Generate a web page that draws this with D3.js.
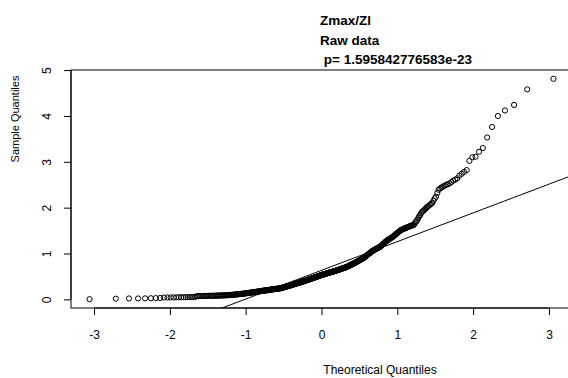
<!DOCTYPE html>
<html>
<head>
<meta charset="utf-8">
<script src="https://cdn.jsdelivr.net/npm/d3@7"></script>
<style>
  html, body { margin: 0; padding: 0; background: #fff; }
  svg { display: block; font-family: "Liberation Sans", Arial, Helvetica, sans-serif; }
</style>
</head>
<body>
<svg id="chart" width="568" height="378"></svg>
<script>
// Normal Q-Q plot of Zmax/Zl (raw data), n = 450, sorted sample values.
const titleLines = ["Zmax/Zl", "Raw data", " p= 1.595842776583e-23"];
const xLabel = "Theoretical Quantiles";
const yLabel = "Sample Quantiles";
const xTicks = [-3, -2, -1, 0, 1, 2, 3];
const yTicks = [0, 1, 2, 3, 4, 5];

const lowerTail = [
  0.004, 0.015, 0.02, 0.02, 0.022, 0.025, 0.028, 0.03,
  0.040, 0.041, 0.042, 0.043, 0.044, 0.045, 0.046, 0.047, 0.048, 0.049, 0.050, 0.051, 0.052, 0.054,
  0.070, 0.071, 0.072, 0.072, 0.073, 0.074, 0.075, 0.075, 0.076, 0.077, 0.078, 0.078, 0.079, 0.080,
  0.081, 0.081, 0.082, 0.083, 0.084, 0.084, 0.085, 0.086, 0.087, 0.088, 0.089, 0.090, 0.091, 0.092, 0.093, 0.095,
  0.097, 0.099, 0.100, 0.102, 0.104, 0.105, 0.107, 0.109, 0.111, 0.112, 0.114, 0.116, 0.118, 0.119, 0.121, 0.123, 0.125, 0.127, 0.130,
  0.132, 0.134, 0.136, 0.138, 0.140, 0.142, 0.144, 0.146, 0.148, 0.150, 0.152, 0.154, 0.156, 0.158, 0.160, 0.162, 0.164, 0.166, 0.168, 0.170, 0.172, 0.174, 0.177, 0.180,
  0.182, 0.184, 0.185, 0.187, 0.188, 0.190, 0.192, 0.193, 0.195, 0.197, 0.198, 0.200, 0.201, 0.203, 0.205, 0.206, 0.208, 0.210
];
const middle = [
  0.214, 0.215, 0.217, 0.218, 0.220, 0.221, 0.223, 0.224, 0.226, 0.227, 0.229, 0.230, 0.232, 0.233, 0.235, 0.236, 0.238, 0.239, 0.241, 0.242,
  0.245, 0.248, 0.251, 0.254, 0.257, 0.260, 0.263, 0.266, 0.269, 0.272, 0.275, 0.278, 0.281, 0.284, 0.287, 0.290, 0.293, 0.296, 0.299, 0.302,
  0.305, 0.308, 0.311, 0.314, 0.317, 0.320, 0.323, 0.326, 0.329, 0.332, 0.335, 0.338, 0.341, 0.344, 0.347, 0.350, 0.353, 0.356, 0.359,
  0.362, 0.365, 0.368, 0.371, 0.374, 0.377, 0.381, 0.384, 0.387, 0.390, 0.393, 0.396, 0.400, 0.403, 0.406, 0.409, 0.412, 0.415, 0.419, 0.422,
  0.425, 0.428, 0.431, 0.434, 0.438, 0.441, 0.444, 0.447, 0.450, 0.453, 0.457, 0.460, 0.463, 0.466, 0.470,
  0.473, 0.476, 0.480, 0.483, 0.486, 0.490, 0.493, 0.496, 0.500, 0.503, 0.506, 0.510, 0.513, 0.516, 0.520, 0.523, 0.526, 0.530,
  0.533, 0.536, 0.538, 0.541, 0.544, 0.547, 0.549, 0.552, 0.555, 0.558, 0.560, 0.563, 0.566, 0.569, 0.571, 0.574, 0.577, 0.580,
  0.582, 0.585, 0.588, 0.591, 0.593, 0.596, 0.599, 0.602, 0.604, 0.607, 0.610, 0.613, 0.615, 0.618, 0.621, 0.624, 0.627, 0.630,
  0.633, 0.637, 0.640, 0.643, 0.647, 0.650, 0.653, 0.657, 0.660, 0.663, 0.667, 0.670, 0.673, 0.677, 0.680, 0.683, 0.687, 0.690, 0.693, 0.697, 0.700, 0.703, 0.707, 0.710,
  0.715, 0.720, 0.725, 0.730, 0.735, 0.740, 0.745, 0.750, 0.755, 0.760, 0.765, 0.770, 0.775, 0.780, 0.785, 0.790, 0.795, 0.800,
  0.806, 0.812, 0.818, 0.824, 0.829, 0.835, 0.841, 0.847, 0.853, 0.859, 0.865, 0.871, 0.876, 0.882, 0.888, 0.894, 0.900,
  0.909, 0.918, 0.926, 0.935, 0.944, 0.953, 0.962, 0.970, 0.979, 0.988, 0.997, 1.006, 1.014, 1.023, 1.032, 1.041, 1.050
];
const upperTail = [
  1.058, 1.064, 1.071, 1.077, 1.084, 1.091, 1.097, 1.104, 1.110, 1.117, 1.124, 1.130, 1.137, 1.143, 1.150,
  1.162, 1.174, 1.186, 1.197, 1.209, 1.221, 1.233, 1.245, 1.256, 1.268, 1.280,
  1.289, 1.298, 1.307, 1.316, 1.325, 1.334, 1.343, 1.352, 1.361, 1.370,
  1.383, 1.396, 1.408, 1.421, 1.434, 1.446, 1.459, 1.472, 1.484, 1.497, 1.510,
  1.517, 1.524, 1.532, 1.539, 1.546, 1.554, 1.561, 1.568, 1.576, 1.583, 1.590, 1.598, 1.605, 1.612, 1.616, 1.620,
  1.65, 1.68, 1.70, 1.73,
  1.77, 1.81, 1.84, 1.88, 1.91,
  1.93, 1.95, 1.97, 2.00, 2.02,
  2.04, 2.06, 2.08, 2.10,
  2.15, 2.20, 2.24,
  2.32, 2.39,
  2.42, 2.44, 2.46,
  2.48, 2.50, 2.51, 2.53,
  2.56, 2.59, 2.61, 2.64,
  2.70, 2.74, 2.78, 2.82, 3.02, 3.10, 3.11, 3.22, 3.30, 3.53, 3.76, 4.00, 4.12, 4.24, 4.58, 4.81
];

const sample = lowerTail.concat(middle, upperTail).sort(d3.ascending);
const n = sample.length;

// Inverse standard normal CDF (Acklam's rational approximation).
function qnorm(p) {
  const a = [-39.69683028665376, 220.9460984245205, -275.9285104469687, 138.3577518672690, -30.66479806614716, 2.506628277459239];
  const b = [-54.47609879822406, 161.5858368580409, -155.6989798598866, 66.80131188771972, -13.28068155288572];
  const c = [-0.007784894002430293, -0.3223964580411365, -2.400758277161838, -2.549732539343734, 4.374664141464968, 2.938163982698783];
  const d = [0.007784695709041462, 0.3224671290700398, 2.445134137142996, 3.754408661907416];
  const pl = 0.02425, ph = 1 - pl;
  let q, r;
  if (p < pl) {
    q = Math.sqrt(-2 * Math.log(p));
    return (((((c[0]*q+c[1])*q+c[2])*q+c[3])*q+c[4])*q+c[5]) / ((((d[0]*q+d[1])*q+d[2])*q+d[3])*q+1);
  }
  if (p <= ph) {
    q = p - 0.5; r = q * q;
    return (((((a[0]*r+a[1])*r+a[2])*r+a[3])*r+a[4])*r+a[5])*q / (((((b[0]*r+b[1])*r+b[2])*r+b[3])*r+b[4])*r+1);
  }
  q = Math.sqrt(-2 * Math.log(1 - p));
  return -(((((c[0]*q+c[1])*q+c[2])*q+c[3])*q+c[4])*q+c[5]) / ((((d[0]*q+d[1])*q+d[2])*q+d[3])*q+1);
}

// Plotting positions (i - 0.5) / n, as in ppoints() for n > 10.
const theo = d3.range(n).map(i => qnorm((i + 0.5) / n));
const points = sample.map((v, i) => ({ x: theo[i], y: v }));

// Reference line through the first and third quartiles.
const q1 = d3.quantile(sample, 0.25), q3 = d3.quantile(sample, 0.75);
const z1 = qnorm(0.25), z3 = qnorm(0.75);
const slope = (q3 - q1) / (z3 - z1);
const intercept = q1 - slope * z1;

// Axis limits padded by 4% of the data range on each side.
function padded(ext) { const s = ext[1] - ext[0]; return [ext[0] - 0.04 * s, ext[1] + 0.04 * s]; }

const plot = { left: 71, right: 572, top: 70, bottom: 308 };
const x = d3.scaleLinear().domain(padded(d3.extent(theo))).range([plot.left, plot.right]);
const y = d3.scaleLinear().domain(padded(d3.extent(sample))).range([plot.bottom, plot.top]);

const svg = d3.select("#chart");
const plainNumber = v => String(v);   // ASCII hyphen for negatives

// Clip for marks inside the plotting region
svg.append("clipPath").attr("id", "plotClip")
  .append("rect")
  .attr("x", plot.left).attr("y", plot.top)
  .attr("width", plot.right - plot.left).attr("height", plot.bottom - plot.top);

// Frame
svg.append("rect")
  .attr("x", plot.left).attr("y", plot.top)
  .attr("width", plot.right - plot.left).attr("height", plot.bottom - plot.top)
  .attr("fill", "none").attr("stroke", "#000").attr("stroke-width", 1);

// Bottom axis
const gx = svg.append("g").attr("transform", `translate(0,${plot.bottom})`)
  .call(d3.axisBottom(x).tickValues(xTicks).tickSize(7).tickPadding(15).tickFormat(plainNumber));
gx.select(".domain").attr("d", `M${x(xTicks[0])},0H${x(xTicks[xTicks.length - 1])}`);
gx.selectAll("text").attr("font-size", 12).attr("fill", "#000").attr("font-family", "Liberation Sans, Arial, sans-serif");

// Left axis, labels parallel to the axis
const gy = svg.append("g").attr("transform", `translate(${plot.left},0)`)
  .call(d3.axisLeft(y).tickValues(yTicks).tickSize(7).tickFormat(plainNumber));
gy.select(".domain").attr("d", `M0,${y(yTicks[0])}V${y(yTicks[yTicks.length - 1])}`);
gy.selectAll(".tick text")
  .attr("x", null).attr("dy", null)
  .attr("text-anchor", "middle")
  .attr("transform", "translate(-20,0) rotate(-90)")
  .attr("font-size", 12).attr("fill", "#000")
  .attr("font-family", "Liberation Sans, Arial, sans-serif");

// Axis titles
svg.append("text")
  .attr("x", 380).attr("y", 374)
  .attr("text-anchor", "middle").attr("font-size", 12)
  .text(xLabel);
svg.append("text")
  .attr("transform", `translate(19,${119}) rotate(-90)`)
  .attr("text-anchor", "middle").attr("font-size", 11)
  .text(yLabel);

// Title block
svg.append("g").selectAll("text").data(titleLines).join("text")
  .attr("x", 320).attr("y", (d, i) => 25 + i * 19.5)
  .attr("font-size", 13.5).attr("font-weight", "bold")
  .attr("xml:space", "preserve").style("white-space", "pre")
  .text(d => d);

// Q-Q reference line
const xd = x.domain();
svg.append("line")
  .attr("clip-path", "url(#plotClip)")
  .attr("x1", x(xd[0])).attr("y1", y(intercept + slope * xd[0]))
  .attr("x2", x(xd[1])).attr("y2", y(intercept + slope * xd[1]))
  .attr("stroke", "#000").attr("stroke-width", 1);

// Sample points as open circles
svg.append("g").selectAll("circle").data(points).join("circle")
  .attr("cx", d => x(d.x)).attr("cy", d => y(d.y)).attr("r", 2.6)
  .attr("fill", "none").attr("stroke", "#000").attr("stroke-width", 1);
</script>
</body>
</html>
